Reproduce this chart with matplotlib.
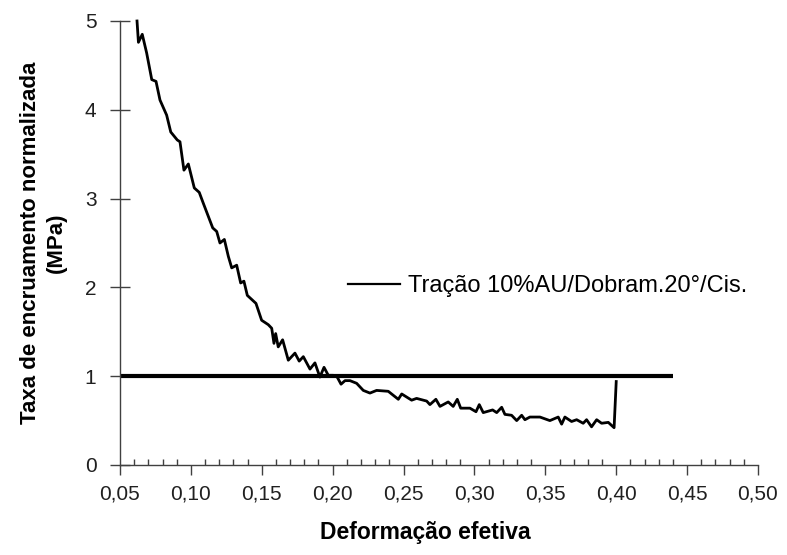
import matplotlib
matplotlib.use('Agg')
import matplotlib.pyplot as plt
from matplotlib.ticker import MultipleLocator, FuncFormatter
from matplotlib.lines import Line2D

plt.rcParams['font.family'] = ['Liberation Sans', 'DejaVu Sans']

# curva
deformacao = [0.0620, 0.0630, 0.0657, 0.0688, 0.0724, 0.0754, 0.0782, 0.0829, 0.0858,
              0.0904, 0.0923, 0.0951, 0.0982, 0.1024, 0.1059, 0.1087, 0.1154, 0.1182,
              0.1205, 0.1236, 0.1264, 0.1288, 0.1323, 0.1351, 0.1374, 0.1398, 0.1459,
              0.1499, 0.1546, 0.1570, 0.1586, 0.1598, 0.1616, 0.1647, 0.1687, 0.1734,
              0.1764, 0.1793, 0.1840, 0.1875, 0.1910, 0.1939, 0.1969, 0.2004, 0.2032,
              0.2059, 0.2087, 0.2122, 0.2169, 0.2216, 0.2263, 0.2310, 0.2392, 0.2463,
              0.2487, 0.2557, 0.2592, 0.2663, 0.2686, 0.2728, 0.2757, 0.2815, 0.2850,
              0.2879, 0.2903, 0.2968, 0.3011, 0.3034, 0.3062, 0.3128, 0.3157, 0.3192,
              0.3215, 0.3262, 0.3298, 0.3333, 0.3356, 0.3391, 0.3462, 0.3532, 0.3591,
              0.3615, 0.3638, 0.3685, 0.3721, 0.3767, 0.3791, 0.3826, 0.3862, 0.3897,
              0.3944, 0.3985, 0.4000]
taxa = [5.00, 4.76, 4.85, 4.64, 4.34, 4.32, 4.11, 3.94, 3.75,
        3.66, 3.64, 3.32, 3.39, 3.12, 3.07, 2.95, 2.67, 2.63,
        2.50, 2.54, 2.35, 2.22, 2.25, 2.05, 2.07, 1.91, 1.82,
        1.63, 1.58, 1.54, 1.37, 1.48, 1.33, 1.41, 1.18, 1.26,
        1.17, 1.22, 1.08, 1.15, 0.99, 1.10, 1.01, 1.01, 0.99,
        0.91, 0.95, 0.95, 0.92, 0.84, 0.81, 0.84, 0.83, 0.74,
        0.80, 0.73, 0.75, 0.72, 0.68, 0.74, 0.66, 0.71, 0.66,
        0.74, 0.64, 0.64, 0.60, 0.68, 0.59, 0.62, 0.59, 0.65,
        0.57, 0.56, 0.50, 0.56, 0.51, 0.54, 0.54, 0.50, 0.54,
        0.46, 0.54, 0.49, 0.51, 0.47, 0.51, 0.43, 0.51, 0.47,
        0.48, 0.42, 0.94]

# linha de referencia
ref_x = [0.05, 0.44]
ref_y = [1.0, 1.0]

legenda = 'Tração 10%AU/Dobram.20°/Cis.'

fig = plt.figure(figsize=(7.87, 5.55), dpi=100)
ax = fig.add_axes([120/787, 90/555, 638/787, 444/555])

ax.plot(ref_x, ref_y, color='black', lw=3.0, solid_capstyle='butt')
ax.plot(deformacao, taxa, color='black', lw=2.0, clip_on=False)

ax.set_xlim(0.05, 0.50)
ax.set_ylim(0, 5)

ax.spines['top'].set_visible(False)
ax.spines['right'].set_visible(False)
for s in ['left', 'bottom']:
    ax.spines[s].set_color('#404040')
    ax.spines[s].set_linewidth(1.0)

ax.xaxis.set_major_locator(MultipleLocator(0.05))
ax.xaxis.set_minor_locator(MultipleLocator(0.01))
ax.yaxis.set_major_locator(MultipleLocator(1))
ax.xaxis.set_major_formatter(FuncFormatter(lambda v, p: ('%.2f' % v).replace('.', ',')))
ax.yaxis.set_major_formatter(FuncFormatter(lambda v, p: '%d' % round(v)))

ax.tick_params(axis='x', which='major', direction='out', length=7, width=1,
               color='#404040', labelsize=15, pad=7, labelcolor='#202020')
ax.tick_params(axis='x', which='minor', direction='in', length=4, width=1,
               color='#404040')
ax.tick_params(axis='y', which='major', direction='inout', length=14, width=1,
               color='#404040', labelsize=15, pad=10, labelcolor='#202020')

ax.set_xlabel('Deformação efetiva', fontsize=16.5, fontweight='bold')
ax.xaxis.set_label_coords(0.478, -0.151)
ax.xaxis.label.set_va('center')
ax.set_ylabel('Taxa de encruamento normalizada\n(MPa)', fontsize=16,
              fontweight='bold', linespacing=1.3)
ax.yaxis.set_label_coords(-0.12, 0.5)
ax.yaxis.label.set_va('center')

handle = Line2D([], [], color='black', lw=1.6)
ax.legend([handle], [legenda], loc='center left', bbox_to_anchor=(0.357, 0.403),
          frameon=False, fontsize=17, handlelength=2.2, handletextpad=0.34,
          borderpad=0, borderaxespad=0)

fig.savefig('out.png', dpi=100)
